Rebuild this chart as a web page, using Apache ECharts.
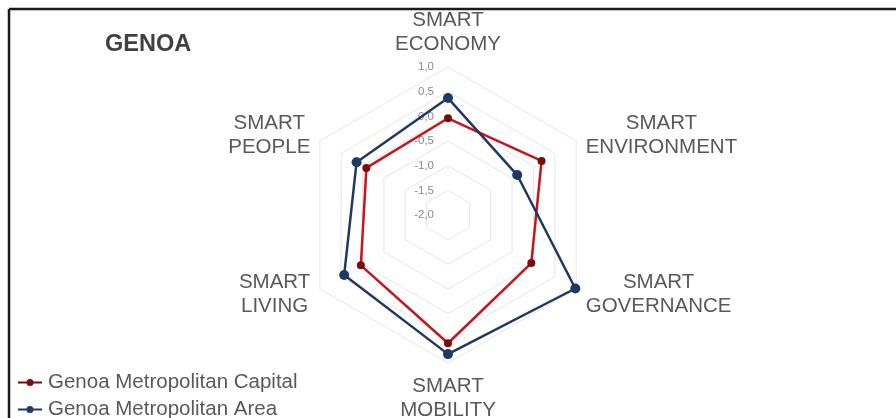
<!DOCTYPE html>
<html>
<head>
<meta charset="utf-8">
<script src="https://cdn.jsdelivr.net/npm/echarts@6/dist/echarts.min.js"></script>
<style>
  html, body { margin: 0; padding: 0; background: #fff; }
  #chart { width: 896px; height: 418px; }
</style>
</head>
<body>
<div id="chart"></div>
<script>
// Indicators in ECharts order (top, then counter-clockwise)
const axisNames = ['SMART\nECONOMY', 'SMART\nPEOPLE', 'SMART\nLIVING', 'SMART\nMOBILITY', 'SMART\nGOVERNANCE', 'SMART\nENVIRONMENT'];
const scaleMin = -2;
const scaleMax = 1;
const capitalValues = [-0.04, -0.09, 0.04, 0.6, -0.05, 0.19];
const areaValues = [0.37, 0.14, 0.43, 0.82, 0.98, -0.38];
const seriesNames = ['Genoa Metropolitan Capital', 'Genoa Metropolitan Area'];

const font = 'Liberation Sans, Arial, sans-serif';

const chart = echarts.init(document.getElementById('chart'));

const indicators = axisNames.map((n, i) => {
    const ind = { name: n, min: scaleMin, max: scaleMax };
    if (i === 0) {
        ind.axisLabel = {
            show: true,
            color: '#8a8a8a',
            fontSize: 11.5,
            fontFamily: font,
            margin: 14,
            formatter: v => v.toFixed(1).replace('.', ',')
        };
    }
    return ind;
});

// legend icon: line with a dot
const lineDot = 'path://M0,2.9L24,2.9L24,5.1L0,5.1Z M8.5,4A3.5,3.5 0 1 1 15.5,4A3.5,3.5 0 1 1 8.5,4Z';

chart.setOption({
    animation: false,
    title: {
        text: 'GENOA',
        left: 100,
        top: 28,
        textStyle: { fontSize: 23.5, fontWeight: 'bold', color: '#404040', fontFamily: font }
    },
    legend: {
        orient: 'vertical',
        left: 13,
        top: 367,
        height: 90,
        itemWidth: 26,
        itemHeight: 7,
        itemGap: 6,
        icon: lineDot,
        textStyle: { fontSize: 20.5, color: '#595959', fontFamily: font, lineHeight: 21 },
        data: seriesNames
    },
    radar: {
        center: [448, 215],
        radius: 148,
        splitNumber: 6,
        startAngle: 90,
        indicator: indicators,
        nameGap: 11,
        axisName: {
            color: '#595959',
            fontSize: 20.5,
            fontFamily: font,
            lineHeight: 24,
            formatter: v => v.split('\n').map(s => '{c|' + s + '}').join('\n'),
            rich: {
                c: { align: 'center', fontSize: 20.5, fontFamily: font, color: '#595959', lineHeight: 24 }
            }
        },
        axisLine: { show: false },
        axisTick: { show: false },
        axisLabel: { show: false },
        splitArea: { show: false },
        splitLine: { lineStyle: { color: '#e6e6e6', width: 1 } }
    },
    series: [{
        type: 'radar',
        data: [
            {
                name: seriesNames[0],
                value: capitalValues,
                symbol: 'circle',
                symbolSize: 8,
                lineStyle: { color: '#c8141e', width: 2.5 },
                itemStyle: { color: '#7a0c0c' }
            },
            {
                name: seriesNames[1],
                value: areaValues,
                symbol: 'circle',
                symbolSize: 10,
                lineStyle: { color: '#1f3864', width: 2.5 },
                itemStyle: { color: '#1f3864' }
            }
        ]
    }],
    graphic: [
        { type: 'line', shape: { x1: 9, y1: 9, x2: 896, y2: 9 }, style: { stroke: '#1a1a1a', lineWidth: 2.5 } },
        { type: 'line', shape: { x1: 9, y1: 9, x2: 9, y2: 418 }, style: { stroke: '#1a1a1a', lineWidth: 2.5 } }
    ]
});
</script>
</body>
</html>
